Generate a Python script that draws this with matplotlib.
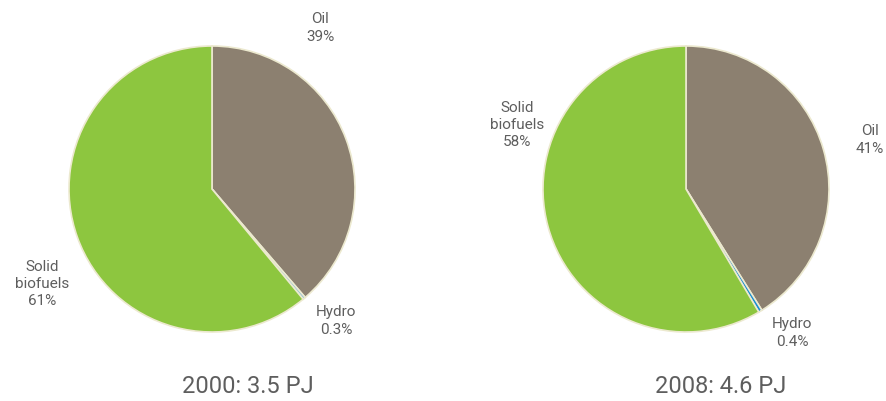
import matplotlib
matplotlib.use("Agg")
import matplotlib.pyplot as plt

plt.rcParams['font.family'] = ['Roboto', 'DejaVu Sans']

# data
labels = ["Oil", "Hydro", "Solid biofuels"]
shares_2000 = [38.7, 0.3, 61.0]
shares_2008 = [41.1, 0.4, 58.5]
titles = ["2000: 3.5 PJ", "2008: 4.6 PJ"]
label_text_2000 = ["Oil\n39%", "Hydro\n0.3%", "Solid\nbiofuels\n61%"]
label_text_2008 = ["Oil\n41%", "Hydro\n0.4%", "Solid\nbiofuels\n58%"]

colors_2000 = ["#8c8070", "#8fc1d8", "#8dc63f"]
colors_2008 = ["#8c8070", "#1a8ed3", "#8dc63f"]
txt_col = "#5e5e5e"

W, H = 887, 401
fig = plt.figure(figsize=(W / 100, H / 100), dpi=100)

def pie_axes(cx, cy, r):
    return fig.add_axes([(cx - r) / W, (H - cy - r) / H, 2 * r / W, 2 * r / H])

ax1 = pie_axes(212, 189, 143)
ax2 = pie_axes(686, 189, 143)

for ax, vals, cols in [(ax1, shares_2000, colors_2000), (ax2, shares_2008, colors_2008)]:
    ax.pie(vals, colors=cols, startangle=90, counterclock=False, radius=1,
           wedgeprops=dict(edgecolor="#ece9cf", linewidth=1.2))
    ax.set_xlim(-1, 1)
    ax.set_ylim(-1, 1)
    ax.set_aspect("equal")
    ax.axis("off")

# label positions (pie radius units)
pos_2000 = [(0.755, 1.126), (0.867, -0.923), (-1.19, -0.664)]
pos_2008 = [(1.287, 0.343), (0.741, -1.007), (-1.18, 0.448)]

for ax, txts, pos in [(ax1, label_text_2000, pos_2000), (ax2, label_text_2008, pos_2008)]:
    for t, (x, y) in zip(txts, pos):
        ax.text(x, y, t, ha="center", va="center", fontsize=11, color=txt_col,
                linespacing=1.3, clip_on=False)

ax1.text(0.252, -1.378, titles[0], ha="center", va="center", fontsize=17,
         color=txt_col, clip_on=False)
ax2.text(0.245, -1.378, titles[1], ha="center", va="center", fontsize=17,
         color=txt_col, clip_on=False)

fig.savefig("out.png", dpi=100)
